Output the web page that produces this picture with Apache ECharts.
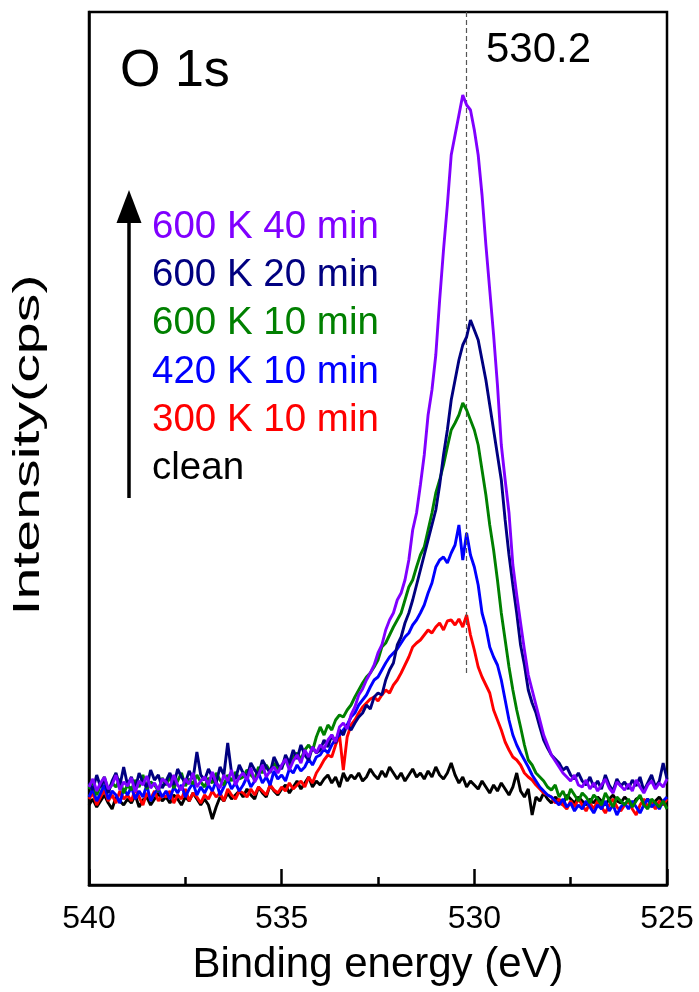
<!DOCTYPE html>
<html>
<head>
<meta charset="utf-8">
<script src="https://cdn.jsdelivr.net/npm/echarts@6/dist/echarts.min.js"></script>
<style>
html,body{margin:0;padding:0;background:#fff;}
#chart{width:699px;height:992px;}
</style>
</head>
<body>
<div id="chart"></div>
<script>
// Binding energy sampling grid (eV), 540 -> 525 in 0.1 eV steps
const eStart = 540.0;
const eStep = 0.1;

// Intensities (arbitrary cps units), one value per 0.1 eV from 540.0 down to 525.0
const clean = [
80,86,78,84,90,82,76,88,84,80,
86,82,90,78,85,88,80,86,92,84,
88,82,90,86,80,88,84,92,86,80,
86,80,66,78,88,84,92,86,90,94,
88,96,90,86,98,92,88,100,94,90,
96,100,92,98,104,96,102,108,98,104,
100,106,110,102,108,98,112,104,110,106,
112,104,108,116,110,106,114,108,118,112,
106,112,104,110,116,108,112,106,114,108,
118,110,106,112,122,110,102,108,98,104,
100,96,104,98,92,100,94,102,96,90,
98,112,94,88,96,70,88,84,92,86,
82,88,84,80,90,86,82,88,84,80,
86,82,88,84,80,86,90,84,82,88,
84,80,86,88,82,86,80,84,88,82,
86];
const k300_10 = [
86,92,80,88,95,84,90,82,94,86,
90,84,96,88,80,92,86,94,84,90,
88,94,82,90,86,96,84,92,88,82,
90,86,94,88,92,84,96,90,86,94,
92,88,96,90,98,94,90,100,95,92,
98,94,102,96,100,104,98,108,102,112,
118,125,130,128,140,150,115,148,160,165,
172,178,182,186,188,184,190,195,192,200,
205,212,220,228,238,242,245,250,255,252,
258,262,255,264,265,260,266,258,270,250,
235,218,208,200,192,175,165,155,143,135,
128,125,120,112,108,105,100,96,92,90,
88,82,86,80,76,84,78,86,80,74,
82,76,84,78,72,80,86,78,74,80,
84,76,70,80,86,78,82,76,84,80,
86];
const k420_10 = [
88,96,84,92,100,86,94,90,82,96,
90,98,86,94,88,100,84,92,96,88,
94,86,98,92,100,88,96,102,90,98,
92,100,94,104,90,98,106,96,102,94,
100,108,98,104,112,102,108,100,114,106,
110,104,116,112,120,114,118,126,120,128,
130,136,132,140,146,150,155,160,168,172,
180,185,190,198,205,208,215,222,228,232,
236,242,248,252,260,265,272,280,292,302,
318,325,328,322,332,340,360,325,352,330,
318,300,272,258,238,228,220,205,185,165,
150,140,132,125,118,110,104,98,94,90,
88,84,80,86,78,82,74,80,76,84,
78,72,80,76,84,74,80,70,78,82,
76,84,78,72,80,86,78,82,76,84,
88];
const k600_10 = [
96,104,90,100,108,94,102,98,106,92,
100,95,105,98,110,96,103,100,94,107,
100,108,97,104,112,99,106,101,110,103,
98,107,102,112,105,100,110,104,113,106,
108,115,110,106,118,112,120,114,122,116,
118,125,120,128,132,126,135,140,134,148,
158,150,160,155,165,170,168,175,180,188,
195,202,208,212,218,225,238,242,250,258,
265,272,285,298,305,318,330,338,355,372,
392,405,420,438,455,462,470,482,475,465,
455,440,415,390,360,335,305,272,245,218,
195,175,158,140,125,120,112,108,104,98,
95,100,88,94,85,96,90,84,92,88,
82,90,86,80,92,85,78,88,84,80,
86,78,84,90,80,76,86,82,78,84,
76];
const k600_20 = [
102,95,110,98,106,92,104,112,99,118,
100,108,96,112,103,98,115,105,110,97,
104,112,100,116,108,102,114,106,133,110,
105,116,108,102,118,110,142,112,106,120,
112,108,122,115,110,125,118,112,128,120,
116,130,122,135,126,140,130,125,138,132,
135,145,138,150,142,155,150,160,155,162,
168,172,180,176,188,192,190,205,215,222,
240,248,262,272,285,300,315,330,345,360,
375,400,430,455,485,505,525,540,548,565,
555,545,525,505,480,455,430,405,365,330,
300,272,240,220,195,182,172,158,145,137,
130,126,122,115,118,110,106,112,104,100,
108,98,104,96,110,100,94,106,99,103,
96,105,99,108,94,102,110,98,104,122,
106];
const k600_40 = [
98,106,94,102,108,96,100,110,95,103,
99,107,93,104,100,109,97,102,95,106,
103,98,110,100,95,106,101,112,98,104,
108,100,113,102,97,110,104,115,100,108,
112,105,117,103,110,120,108,114,118,112,
120,126,115,124,130,122,135,128,138,132,
140,136,145,150,143,158,162,156,170,178,
190,196,205,212,220,232,240,255,265,272,
285,292,305,325,355,372,400,430,470,495,
530,585,635,680,730,750,770,790,780,775,
755,730,690,640,595,550,500,440,405,372,
320,290,262,235,210,195,180,165,150,140,
130,124,118,112,108,104,110,100,98,105,
96,102,94,100,106,97,92,103,99,95,
101,94,105,98,92,100,104,96,102,98,
106];

const seriesNames = ['clean','300 K 10 min','420 K 10 min','600 K 10 min','600 K 20 min','600 K 40 min'];
const seriesColors = ['#000000','#FF0000','#0000FF','#008000','#000080','#8000FF'];
const seriesValues = [clean, k300_10, k420_10, k600_10, k600_20, k600_40];

const xTicks = [540, 535, 530, 525];
const peakEnergy = 530.2;
const peakLineRange = [212, 873];
const yMax = 873;

function toPairs(vals){
  return vals.map((v,i)=>[+(eStart - eStep*i).toFixed(1), v]);
}

const FONT = 'Liberation Sans, Arial, Helvetica, sans-serif';

const series = seriesValues.map((vals, idx) => {
  const s = {
    name: seriesNames[idx],
    type: 'line',
    data: toPairs(vals),
    showSymbol: false,
    symbol: 'none',
    lineStyle: {color: seriesColors[idx], width: 2.9},
    itemStyle: {color: seriesColors[idx]},
    z: 2 + idx,
    silent: true
  };
  if (idx === seriesValues.length - 1) {
    s.markLine = {
      silent: true,
      symbol: 'none',
      label: {show: false},
      lineStyle: {color: '#555', type: [5, 3], width: 1.2},
      data: [[{coord: [peakEnergy, peakLineRange[0]]}, {coord: [peakEnergy, peakLineRange[1]]}]]
    };
  }
  return s;
});

// legend-like colored labels (top to bottom: strongest first)
const legendOrder = [5,4,3,2,1,0];
const legendTop = 227;
const legendGap = 48.3;
const graphics = legendOrder.map((si, row) => ({
  type: 'text',
  x: 152,
  y: legendTop + row * legendGap,
  style: {
    text: seriesNames[si],
    fill: seriesColors[si],
    font: '38.5px ' + FONT,
    textAlign: 'left',
    textVerticalAlign: 'middle'
  },
  z: 100
}));

graphics.push(
  {type:'line', shape:{x1:129, y1:498, x2:129, y2:218}, style:{stroke:'#000', lineWidth:3.5}, z:100},
  {type:'polygon', shape:{points:[[129,190],[116.5,223],[141.5,223]]}, style:{fill:'#000'}, z:100},
  {type:'text', x:120, y:72, style:{text:'O 1s', fill:'#000', font:'52px ' + FONT, textAlign:'left', textVerticalAlign:'middle'}, z:100},
  {type:'text', x:486, y:50, style:{text:String(peakEnergy), fill:'#000', font:'42px ' + FONT, textAlign:'left', textVerticalAlign:'middle'}, z:100},
  {type:'text', x:29, y:445, rotation:Math.PI/2, scaleX:1.55, scaleY:1,
   style:{text:'Intensity(cps)', fill:'#000', font:'37px ' + FONT, textAlign:'center', textVerticalAlign:'middle'}, z:100}
);

const chart = echarts.init(document.getElementById('chart'), null, {renderer:'canvas'});
chart.setOption({
  animation: false,
  backgroundColor: '#fff',
  grid: {left: 89, right: 32, top: 12, bottom: 107, show: true, borderColor: '#000', borderWidth: 2.5, backgroundColor: 'transparent'},
  xAxis: {
    type: 'value',
    min: xTicks[xTicks.length-1],
    max: xTicks[0],
    interval: 5,
    inverse: true,
    name: 'Binding energy (eV)',
    nameLocation: 'middle',
    nameGap: 59,
    nameTextStyle: {fontSize: 42, fontFamily: FONT, color: '#000'},
    axisLine: {show: true, lineStyle: {color: '#000', width: 2.5}},
    axisTick: {show: true, inside: true, length: 16, lineStyle: {color: '#000', width: 2.5}},
    minorTick: {show: true, splitNumber: 2, length: 8, lineStyle: {color: '#000', width: 2.5}},
    axisLabel: {show: true, fontSize: 32, fontFamily: FONT, color: '#000', margin: 18},
    splitLine: {show: false},
    minorSplitLine: {show: false}
  },
  yAxis: {
    type: 'value',
    min: 0,
    max: yMax,
    axisLine: {show: true, lineStyle: {color: '#000', width: 2.5}},
    axisTick: {show: false},
    axisLabel: {show: false},
    splitLine: {show: false}
  },
  series: series,
  graphic: graphics
});
</script>
</body>
</html>
